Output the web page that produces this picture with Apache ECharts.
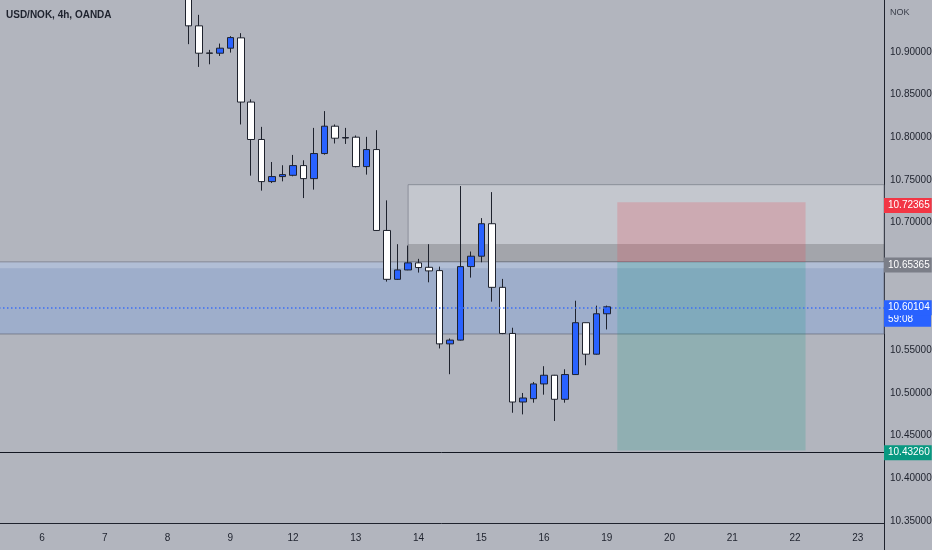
<!DOCTYPE html>
<html>
<head>
<meta charset="utf-8">
<title>USD/NOK 4h</title>
<script src="https://cdn.jsdelivr.net/npm/echarts@6/dist/echarts.min.js"></script>
<style>
  html, body { margin: 0; padding: 0; background: #b2b5be; }
  #chart { width: 932px; height: 550px; }
</style>
</head>
<body>
<div id="chart"></div>
<script>
// Day labels on the time axis (first 4h bar of each day), 6 bars per day
const dayLabels = ['6', '7', '8', '9', '12', '13', '14', '15', '16', '19', '20', '21', '22', '23'];
const hours = ['00', '04', '08', '12', '16', '20'];
const firstDayBar = 4;      // bars of day 5 before day 6 starts
const totalBars = 85;

// Price tick labels shown on the right axis
const yTicks = [10.35, 10.40, 10.45, 10.50, 10.55, 10.70, 10.75, 10.80, 10.85, 10.90];

// Candles, starting at bar index 18 (earlier bars are above the visible range)
const firstCandle = 18;
const opens  = [10.978, 10.9306, 10.8988, 10.8985, 10.9044, 10.9165, 10.8412, 10.7973, 10.7479, 10.7538,
                10.7553, 10.7667, 10.7514, 10.7808, 10.8129, 10.7990, 10.8000, 10.7655, 10.7855, 10.6906,
                10.6333, 10.6443, 10.6526, 10.6474, 10.6435, 10.5576, 10.5620, 10.6482, 10.6604, 10.6985,
                10.6239, 10.5698, 10.4894, 10.4933, 10.5106, 10.5208, 10.4926, 10.5216, 10.5824, 10.5455,
                10.5929];
const closes = [10.9306, 10.8985, 10.8983, 10.9044, 10.9168, 10.8412, 10.7973, 10.7479, 10.7538, 10.7561,
                10.7667, 10.7514, 10.7808, 10.8129, 10.7988, 10.7996, 10.7655, 10.7855, 10.6906, 10.6333,
                10.6443, 10.6526, 10.6471, 10.6432, 10.5576, 10.5620, 10.6482, 10.6604, 10.6985, 10.6239,
                10.5698, 10.4894, 10.4941, 10.5106, 10.5208, 10.4926, 10.5216, 10.5824, 10.5455, 10.5929,
                10.60104];
const lows   = [10.9091, 10.8824, 10.8855, 10.8953, 10.8992, 10.8149, 10.7549, 10.7373, 10.7462, 10.7482,
                10.7541, 10.7286, 10.7385, 10.7795, 10.7926, 10.7921, 10.7647, 10.7561, 10.6900, 10.6306,
                10.6326, 10.6440, 10.6412, 10.6298, 10.5522, 10.5220, 10.5615, 10.6353, 10.6533, 10.6071,
                10.5690, 10.4768, 10.4749, 10.4886, 10.4980, 10.4671, 10.4886, 10.5212, 10.5325, 10.5450,
                10.5745];
const highs  = [10.990, 10.9435, 10.9024, 10.9098, 10.9185, 10.9220, 10.8444, 10.8121, 10.7709, 10.7671,
                10.7792, 10.7729, 10.8109, 10.8306, 10.8149, 10.8109, 10.8020, 10.8004, 10.8082, 10.7259,
                10.6745, 10.6729, 10.6573, 10.6745, 10.6482, 10.5639, 10.7427, 10.6659, 10.7051, 10.7356,
                10.6338, 10.5765, 10.5000, 10.5129, 10.5314, 10.5212, 10.5278, 10.6082, 10.5826, 10.6024,
                10.6025];

// Drawn levels and zones
const supplyTop = 10.7443, supplyBandTop = 10.6747, supplyStartBar = 39;
const demandTop = 10.65365, demandStripBottom = 10.6462, demandBottom = 10.5692;
const entryPrice = 10.65365, stopPrice = 10.72365, targetPrice = 10.4326;
const positionStartBar = 59, positionEndBar = 77;
const lastPrice = 10.60104, countdown = '59:08';

const categories = [];
for (let i = 0; i < totalBars; i++) {
    const d = Math.floor((i - firstDayBar) / 6);
    const h = ((i - firstDayBar) % 6 + 6) % 6;
    categories.push((d < 0 ? '5' : dayLabels[d]) + ' ' + hours[h]);
}

const candles = opens.map(function (o, k) {
    return [firstCandle + k, o, closes[k], lows[k], highs[k]];
});

const fontFamily = '"Liberation Sans", Roboto, sans-serif';
const textColor = '#1e222d';
const hidden = { color: 'rgba(0,0,0,0)', width: 0 };

function priceTag(bg, text) {
    return {
        show: true,
        position: 'end',
        distance: 0,
        formatter: text,
        color: '#ffffff',
        backgroundColor: bg,
        fontFamily: fontFamily,
        fontSize: 10,
        lineHeight: 11,
        padding: [2, 2, 2, 4]
    };
}

const chart = echarts.init(document.getElementById('chart'));
chart.setOption({
    animation: false,
    backgroundColor: '#b2b5be',
    title: [
        { text: 'USD/NOK, 4h, OANDA', left: 6, top: 10, padding: 0,
          textStyle: { fontFamily: fontFamily, fontSize: 10, fontWeight: 'bold', color: textColor } },
        { text: 'NOK', left: 890, top: 8, padding: 0,
          textStyle: { fontFamily: fontFamily, fontSize: 9, fontWeight: 'normal', color: '#3a3e4a' } }
    ],
    grid: { left: -5, right: 48, top: 0, bottom: 27, outerBoundsMode: 'none', containLabel: false },
    xAxis: {
        type: 'category',
        data: categories,
        axisLine: { lineStyle: { color: textColor, width: 1 } },
        axisTick: { show: false },
        splitLine: { show: false },
        axisLabel: {
            interval: function (index) { return index >= firstDayBar && (index - firstDayBar) % 6 === 0; },
            formatter: function (v) { return v.split(' ')[0]; },
            margin: 10,
            color: textColor,
            fontFamily: fontFamily,
            fontSize: 10
        }
    },
    yAxis: {
        type: 'value',
        position: 'right',
        min: 10.3475,
        max: 10.9609,
        axisLine: { show: true, lineStyle: { color: textColor, width: 1 } },
        axisTick: { show: false },
        splitLine: { show: false },
        axisLabel: {
            customValues: yTicks,
            formatter: function (v) { return v.toFixed(5); },
            align: 'left',
            margin: 6,
            color: textColor,
            fontFamily: fontFamily,
            fontSize: 10
        }
    },
    series: [{
        type: 'candlestick',
        data: candles,
        encode: { x: 0, y: [1, 2, 3, 4] },
        barWidth: 7,
        itemStyle: {
            color: '#2962ff',
            color0: '#ffffff',
            borderColor: '#1e222d',
            borderColor0: '#1e222d',
            borderWidth: 1
        },
        markArea: {
            silent: true,
            data: [
                [{ xAxis: supplyStartBar, yAxis: supplyTop,
                   itemStyle: { color: '#c4c7ce', borderColor: 'rgba(120,124,135,0.7)', borderWidth: 1 } },
                 { yAxis: demandTop }],
                [{ xAxis: supplyStartBar, yAxis: supplyBandTop,
                   itemStyle: { color: 'rgba(0,0,0,0.17)' } },
                 { yAxis: demandTop }],
                [{ yAxis: demandTop,
                   itemStyle: { color: '#9eaecb', borderColor: 'rgba(110,115,130,0.8)', borderWidth: 1 } },
                 { yAxis: demandBottom }],
                [{ yAxis: demandTop, itemStyle: { color: 'rgba(255,255,255,0.2)' } },
                 { yAxis: demandStripBottom }],
                [{ xAxis: positionStartBar, yAxis: stopPrice, itemStyle: { color: 'rgba(242,54,69,0.2)' } },
                 { xAxis: positionEndBar, yAxis: entryPrice }],
                [{ xAxis: positionStartBar, yAxis: entryPrice, itemStyle: { color: 'rgba(8,153,129,0.2)' } },
                 { xAxis: positionEndBar, yAxis: targetPrice }]
            ]
        },
        markLine: {
            silent: true,
            symbol: ['none', 'none'],
            data: [
                { yAxis: stopPrice, lineStyle: hidden,
                  label: priceTag('#f23645', stopPrice.toFixed(5)) },
                { yAxis: entryPrice, lineStyle: hidden,
                  label: priceTag('#7b7e88', entryPrice.toFixed(5)) },
                { yAxis: targetPrice, lineStyle: { color: '#131722', width: 1, type: 'solid' },
                  label: priceTag('#089981', targetPrice.toFixed(5)) },
                { yAxis: lastPrice, lineStyle: hidden,
                  label: Object.assign(priceTag('#2962ff', countdown),
                      { verticalAlign: 'top', padding: [6, 18, 2, 4] }) },
                { yAxis: lastPrice, lineStyle: { color: '#3d6ff5', width: 1.5, type: [1.5, 2.5] },
                  label: priceTag('#2962ff', lastPrice.toFixed(5)) }
            ]
        }
    }],
    graphic: [{
        type: 'line',
        shape: { x1: 884.5, y1: 523, x2: 884.5, y2: 550 },
        style: { stroke: textColor, lineWidth: 1 }
    }]
});
</script>
</body>
</html>
